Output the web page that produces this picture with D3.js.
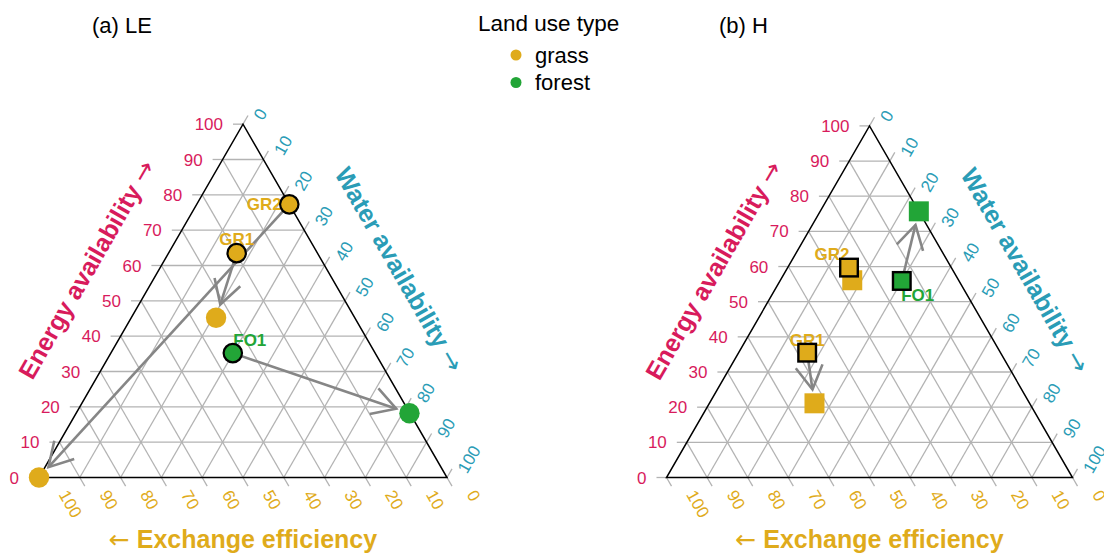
<!DOCTYPE html>
<html>
<head>
<meta charset="utf-8">
<script src="https://cdn.jsdelivr.net/npm/d3@7"></script>
<style>
  body { margin: 0; background: #fff; }
  text { font-family: "Liberation Sans", Arial, Helvetica, sans-serif; }
  .arw { font-family: "DejaVu Sans", sans-serif; font-weight: normal; }
</style>
</head>
<body>
<svg id="chart" width="1104" height="555"></svg>
<script>
// ---- data ----
var landTypes = ["grass", "forest"];
var sites = ["GR1", "GR2", "FO1"];
var siteType = ["grass", "grass", "forest"];
var tickValues = [0, 10, 20, 30, 40, 50, 60, 70, 80, 90, 100];

// (a) LE : energy / water availability (%), exchange efficiency = 100 - both
var leEnergyStart = [63.5, 77.3, 35.2];
var leWaterStart = [16.7, 22.7, 29.9];
var leEnergyEnd = [45.2, 0, 18.2];
var leWaterEnd = [20.8, 0, 81.7];

// (b) H
var hEnergyStart = [35.5, 59.7, 55.9];
var hWaterStart = [16.9, 15.1, 30.0];
var hEnergyEnd = [21.1, 56.1, 75.7];
var hWaterEnd = [25.9, 17.7, 24.3];

// ---- styles ----
var colType = { grass: "#dfab1b", forest: "#22a537" };
var colEnergy = "#d81b5c";
var colWater = "#2a9cb6";
var colExchange = "#dfab1b";
var gridCol = "#b3b3b3";
var arrowCol = "#868686";

var svg = d3.select("#chart");

var panels = [
  { title: "(a) LE", titleX: 92, left: 39, side: 408, shape: "circle",
    eStart: leEnergyStart, wStart: leWaterStart, eEnd: leEnergyEnd, wEnd: leWaterEnd,
    nudge: { GR1: [0, -14], GR2: [-25, 0], FO1: [17, -13] } },
  { title: "(b) H", titleX: 719, left: 666.5, side: 406, shape: "square",
    eStart: hEnergyStart, wStart: hWaterStart, eEnd: hEnergyEnd, wEnd: hWaterEnd,
    nudge: { GR1: [0, -13], GR2: [-17, -14], FO1: [16, 14] } }
];

var baseY = 477.5;
var c60 = 0.5, s60 = Math.sqrt(3) / 2;

panels.forEach(function (p) {
  var h = p.side * s60;
  // x follows water + energy/2, y follows energy
  var x = d3.scaleLinear().domain([0, 100]).range([p.left, p.left + p.side]);
  var y = d3.scaleLinear().domain([0, 100]).range([baseY, baseY - h]);
  function proj(e, w) { return [x(w + e / 2), y(e)]; }

  var g = svg.append("g");

  // grid
  var grid = g.append("g").attr("stroke", gridCol).attr("stroke-width", 1.3);
  tickValues.slice(1, -1).forEach(function (v) {
    var a = proj(v, 0), b = proj(v, 100 - v);
    grid.append("line").attr("x1", a[0]).attr("y1", a[1]).attr("x2", b[0]).attr("y2", b[1]);
    a = proj(0, v); b = proj(100 - v, v);
    grid.append("line").attr("x1", a[0]).attr("y1", a[1]).attr("x2", b[0]).attr("y2", b[1]);
    a = proj(0, 100 - v); b = proj(100 - v, 0);
    grid.append("line").attr("x1", a[0]).attr("y1", a[1]).attr("x2", b[0]).attr("y2", b[1]);
  });

  // ticks + tick labels
  var ticks = g.append("g").attr("stroke", gridCol).attr("stroke-width", 1.3);
  tickValues.forEach(function (v) {
    // energy, left edge
    var a = proj(v, 0);
    ticks.append("line").attr("x1", a[0] - 10).attr("y1", a[1]).attr("x2", a[0]).attr("y2", a[1]);
    g.append("text").attr("x", a[0] - 20).attr("y", a[1]).attr("dy", "0.36em")
      .attr("text-anchor", "end").attr("font-size", 17).attr("fill", colEnergy).text(v);
    // water, right edge
    a = proj(100 - v, v);
    ticks.append("line").attr("x1", a[0]).attr("y1", a[1])
      .attr("x2", a[0] + 10 * c60).attr("y2", a[1] - 10 * s60);
    g.append("text").attr("transform", "translate(" + (a[0] + 14.7) + "," + (a[1] - 6) + ") rotate(-60)")
      .attr("dy", "0.36em").attr("font-size", 17).attr("fill", colWater).text(v);
    // exchange, bottom edge
    a = proj(0, 100 - v);
    ticks.append("line").attr("x1", a[0]).attr("y1", a[1])
      .attr("x2", a[0] + 10 * c60).attr("y2", a[1] + 10 * s60);
    g.append("text").attr("transform", "translate(" + (a[0] + 24.5) + "," + (a[1] + 14) + ") rotate(60)")
      .attr("dy", "0.36em").attr("font-size", 17).attr("fill", colExchange).text(v);
  });

  // border
  var A = proj(0, 0), B = proj(0, 100), C = proj(100, 0);
  g.append("path").attr("d", "M" + A + "L" + B + "L" + C + "Z")
    .attr("fill", "none").attr("stroke", "#000").attr("stroke-width", 1.5);

  // axis titles
  var midL = [(A[0] + C[0]) / 2, (A[1] + C[1]) / 2];
  var midR = [(B[0] + C[0]) / 2, (B[1] + C[1]) / 2];
  var off = 63;
  var tE = g.append("text")
    .attr("transform", "translate(" + (midL[0] - off * s60) + "," + (midL[1] - off * c60) + ") rotate(-60)")
    .attr("text-anchor", "middle").attr("dy", "0.36em").attr("font-size", 25).attr("fill", colEnergy);
  tE.append("tspan").attr("font-weight", "bold").text("Energy availability ");
  tE.append("tspan").attr("class", "arw").text("\u2192");
  var tW = g.append("text")
    .attr("transform", "translate(" + (midR[0] + off * s60) + "," + (midR[1] - off * c60) + ") rotate(60)")
    .attr("text-anchor", "middle").attr("dy", "0.36em").attr("font-size", 25).attr("fill", colWater);
  tW.append("tspan").attr("font-weight", "bold").text("Water availability ");
  tW.append("tspan").attr("class", "arw").text("\u2192");
  var tX = g.append("text").attr("x", (A[0] + B[0]) / 2).attr("y", 548)
    .attr("text-anchor", "middle").attr("font-size", 25).attr("fill", colExchange);
  tX.append("tspan").attr("class", "arw").text("\u2190");
  tX.append("tspan").attr("font-weight", "bold").text(" Exchange efficiency");

  // panel title
  svg.append("text").attr("x", p.titleX).attr("y", 33).attr("font-size", 22).attr("fill", "#000").text(p.title);

  // arrows from start to end
  var arrows = g.append("g").attr("stroke", arrowCol).attr("stroke-width", 2.6)
    .attr("fill", "none").attr("stroke-linecap", "butt");
  sites.forEach(function (s, i) {
    var a = proj(p.eStart[i], p.wStart[i]);
    var b = proj(p.eEnd[i], p.wEnd[i]);
    var dx = b[0] - a[0], dy = b[1] - a[1];
    var len = Math.sqrt(dx * dx + dy * dy);
    if (len < 20) return;
    var ux = dx / len, uy = dy / len;
    var tip = [b[0] - ux * 14, b[1] - uy * 14];
    arrows.append("line").attr("x1", a[0]).attr("y1", a[1]).attr("x2", tip[0]).attr("y2", tip[1]);
    var ang = Math.atan2(-uy, -ux), hl = 27, ha = Math.PI / 6;
    var b1 = [tip[0] + hl * Math.cos(ang + ha), tip[1] + hl * Math.sin(ang + ha)];
    var b2 = [tip[0] + hl * Math.cos(ang - ha), tip[1] + hl * Math.sin(ang - ha)];
    arrows.append("path").attr("d", "M" + b1 + "L" + tip + "L" + b2);
  });

  // site labels (under points)
  sites.forEach(function (s, i) {
    var a = proj(p.eStart[i], p.wStart[i]);
    g.append("text").attr("x", a[0] + p.nudge[s][0]).attr("y", a[1] + p.nudge[s][1])
      .attr("dy", "0.36em").attr("text-anchor", "middle").attr("font-size", 17)
      .attr("font-weight", "bold").attr("fill", colType[siteType[i]]).text(s);
  });

  // points: end (no outline), start (black outline)
  function mark(sel, pos, fill, outlined) {
    if (p.shape === "circle") {
      sel.append("circle").attr("cx", pos[0]).attr("cy", pos[1]).attr("r", outlined ? 9.2 : 10.2)
        .attr("fill", fill).attr("stroke", outlined ? "#000" : "none").attr("stroke-width", 2.2);
    } else {
      var hs = outlined ? 8.8 : 10;
      sel.append("rect").attr("x", pos[0] - hs).attr("y", pos[1] - hs)
        .attr("width", 2 * hs).attr("height", 2 * hs)
        .attr("fill", fill).attr("stroke", outlined ? "#000" : "none").attr("stroke-width", 2.4);
    }
  }
  var pts = g.append("g");
  sites.forEach(function (s, i) {
    mark(pts, proj(p.eEnd[i], p.wEnd[i]), colType[siteType[i]], false);
  });
  sites.forEach(function (s, i) {
    mark(pts, proj(p.eStart[i], p.wStart[i]), colType[siteType[i]], true);
  });
});

// legend
var leg = svg.append("g");
leg.append("text").attr("x", 478).attr("y", 31).attr("font-size", 22.5).text("Land use type");
landTypes.forEach(function (t, i) {
  leg.append("circle").attr("cx", 516).attr("cy", 55 + i * 27.5).attr("r", 5.5).attr("fill", colType[t]);
  leg.append("text").attr("x", 535).attr("y", 55 + i * 27.5).attr("dy", "0.36em")
    .attr("font-size", 22).text(t);
});
</script>
</body>
</html>
